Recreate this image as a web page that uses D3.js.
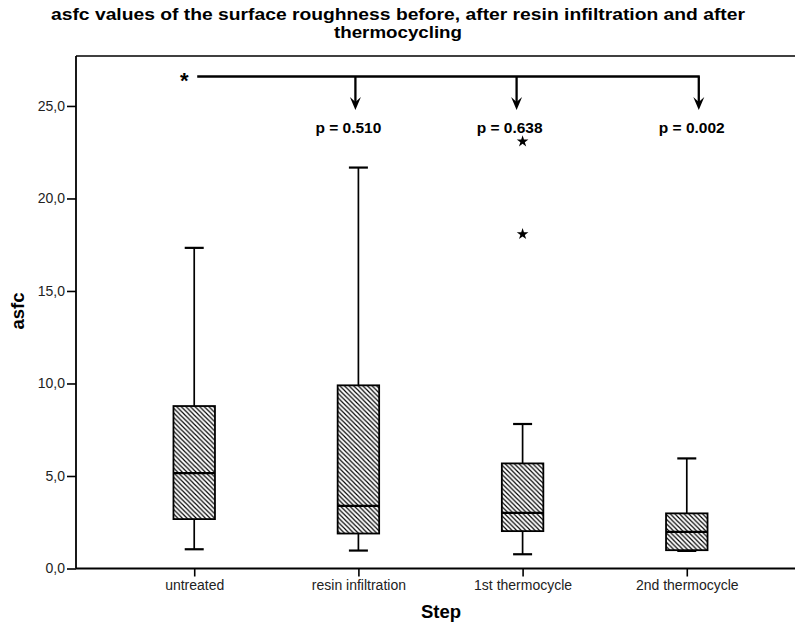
<!DOCTYPE html>
<html>
<head>
<meta charset="utf-8">
<script src="https://cdn.jsdelivr.net/npm/d3@7"></script>
<style>
  body { margin: 0; background: #fff; }
  text { font-family: Arial, "Liberation Sans", sans-serif; }
</style>
</head>
<body>
<div class="canvas"></div>
<script>
// data
const categories = ['untreated', 'resin infiltration', '1st thermocycle', '2nd thermocycle'];
const mins    = [1.04, 0.97, 0.77, 0.95];
const q1s     = [2.67, 1.89, 2.02, 0.99];
const medians = [5.16, 3.39, 3.01, 1.98];
const q3s     = [8.78, 9.90, 5.68, 2.98];
const maxs    = [17.33, 21.67, 7.81, 5.95];
const outliers = [[], [], [18.07, 23.08], []];
const yTicks = [0, 5, 10, 15, 20, 25];
const pLabels = ['p = 0.510', 'p = 0.638', 'p = 0.002'];

const width = 795, height = 623;
const svg = d3.select('.canvas')
  .append('svg')
  .attr('width', width)
  .attr('height', height);

const plotLeft = 76, plotTop = 56, plotBottom = 568.5;

// scales
const x = d3.scalePoint()
  .domain(categories)
  .range([plotLeft, 805])
  .padding(0.72);

const y = d3.scaleLinear()
  .domain([0, 27.7])
  .range([plotBottom, plotTop]);

const data = categories.map((c, i) => ({
  cat: c, min: mins[i], q1: q1s[i], med: medians[i], q3: q3s[i], max: maxs[i], out: outliers[i]
}));

// hatch pattern (\\\ direction)
const hs = 4.6;
svg.append('defs').append('pattern')
  .attr('id', 'hatch')
  .attr('patternUnits', 'userSpaceOnUse')
  .attr('width', hs)
  .attr('height', hs)
  .append('path')
  .attr('d', `M-1,-1L${hs + 1},${hs + 1}M${-1 - hs},-1L1,${hs + 1}M${hs - 1},-1L${2 * hs + 1},${hs + 1}`)
  .attr('stroke', '#000')
  .attr('stroke-width', 1.15);

// title, two lines
const titleLines = ['asfc values of the surface roughness before, after resin infiltration and after', 'thermocycling'];
const titleWidths = [694, 128];
svg.selectAll('text.title').data(titleLines).enter()
  .append('text').attr('class', 'title')
  .attr('x', 398)
  .attr('y', (d, i) => 19.5 + i * 18)
  .attr('text-anchor', 'middle')
  .attr('font-weight', 'bold')
  .attr('font-size', 16)
  .attr('textLength', (d, i) => titleWidths[i])
  .attr('lengthAdjust', 'spacingAndGlyphs')
  .text(d => d);

// frame top line
svg.append('line')
  .attr('x1', plotLeft).attr('x2', width)
  .attr('y1', plotTop).attr('y2', plotTop)
  .attr('stroke', '#000').attr('stroke-width', 1.6);

// axes
const yAxisGroup = svg.append('g')
  .attr('transform', `translate(${plotLeft}, 0)`);
const yAxis = d3.axisLeft(y)
  .tickValues(yTicks)
  .tickSize(9)
  .tickPadding(2)
  .tickFormat(d => d3.format('.1f')(d).replace('.', ','));
yAxisGroup.call(yAxis);
yAxisGroup.select('.domain').attr('d', `M0,${plotTop}V${plotBottom}`);

const xAxisGroup = svg.append('g')
  .attr('transform', `translate(0, ${plotBottom})`);
const xAxis = d3.axisBottom(x)
  .tickSize(8)
  .tickPadding(4);
xAxisGroup.call(xAxis);
xAxisGroup.select('.domain').attr('d', `M${plotLeft},0H${width}`);

[yAxisGroup, xAxisGroup].forEach(g => {
  g.select('.domain').attr('stroke', '#000').attr('stroke-width', 1.8);
  g.selectAll('.tick line').attr('stroke', '#000').attr('stroke-width', 1.6);
  g.selectAll('.tick text')
    .attr('fill', '#222')
    .attr('font-size', 14)
    .attr('font-family', 'Arial, "Liberation Sans", sans-serif');
});

// axis titles
svg.append('text')
  .attr('transform', `translate(24, 311) rotate(-90)`)
  .attr('text-anchor', 'middle')
  .attr('font-weight', 'bold')
  .attr('font-size', 18.5)
  .text('asfc');

svg.append('text')
  .attr('x', 441).attr('y', 618)
  .attr('text-anchor', 'middle')
  .attr('font-weight', 'bold')
  .attr('font-size', 18.5)
  .text('Step');

// boxes
const boxW = 41.5, capW = 19;
const boxes = svg.selectAll('g.box').data(data).enter()
  .append('g').attr('class', 'box');

boxes.append('line')
  .attr('x1', d => x(d.cat)).attr('x2', d => x(d.cat))
  .attr('y1', d => y(d.max)).attr('y2', d => y(d.min))
  .attr('stroke', '#000').attr('stroke-width', 1.7);

boxes.append('line')
  .attr('x1', d => x(d.cat) - capW / 2).attr('x2', d => x(d.cat) + capW / 2)
  .attr('y1', d => y(d.max)).attr('y2', d => y(d.max))
  .attr('stroke', '#000').attr('stroke-width', 2.2);

boxes.append('line')
  .attr('x1', d => x(d.cat) - capW / 2).attr('x2', d => x(d.cat) + capW / 2)
  .attr('y1', d => y(d.min)).attr('y2', d => y(d.min))
  .attr('stroke', '#000').attr('stroke-width', 2.2);

boxes.append('rect')
  .attr('x', d => x(d.cat) - boxW / 2)
  .attr('width', boxW)
  .attr('y', d => y(d.q3))
  .attr('height', d => y(d.q1) - y(d.q3))
  .attr('fill', '#fff');

boxes.append('rect')
  .attr('x', d => x(d.cat) - boxW / 2)
  .attr('width', boxW)
  .attr('y', d => y(d.q3))
  .attr('height', d => y(d.q1) - y(d.q3))
  .attr('fill', 'url(#hatch)')
  .attr('stroke', '#000').attr('stroke-width', 1.8);

boxes.append('line')
  .attr('x1', d => x(d.cat) - boxW / 2).attr('x2', d => x(d.cat) + boxW / 2)
  .attr('y1', d => y(d.med)).attr('y2', d => y(d.med))
  .attr('stroke', '#000').attr('stroke-width', 2.2);

// outliers as stars
const star = d3.symbol().type(d3.symbolStar).size(42);
boxes.each(function (d) {
  d3.select(this).selectAll('path.out').data(d.out).enter()
    .append('path').attr('class', 'out')
    .attr('d', star)
    .attr('transform', v => `translate(${x(d.cat)}, ${y(v)})`)
    .attr('fill', '#000');
});

// significance bracket
const bracketY = 76.5, arrowTip = 110;
const arrowOffsets = [-3, -6, 12];
const targets = categories.slice(1).map((c, i) => x(c) + arrowOffsets[i]);
const starX = x(categories[0]) - 10;

svg.append('text')
  .attr('x', starX).attr('y', 88)
  .attr('text-anchor', 'middle')
  .attr('font-weight', 'bold')
  .attr('font-size', 22)
  .text('*');

svg.append('line')
  .attr('x1', starX + 13).attr('x2', targets[targets.length - 1] + 1)
  .attr('y1', bracketY).attr('y2', bracketY)
  .attr('stroke', '#000').attr('stroke-width', 2.3);

const arrows = svg.selectAll('g.arrow').data(targets).enter()
  .append('g').attr('class', 'arrow');

arrows.append('line')
  .attr('x1', d => d).attr('x2', d => d)
  .attr('y1', bracketY).attr('y2', arrowTip - 6)
  .attr('stroke', '#000').attr('stroke-width', 2.3);

arrows.append('path')
  .attr('d', d => `M${d - 5.5},${arrowTip - 13} L${d},${arrowTip - 8} L${d + 5.5},${arrowTip - 13} L${d},${arrowTip} Z`)
  .attr('fill', '#000');

svg.selectAll('text.p').data(pLabels).enter()
  .append('text').attr('class', 'p')
  .attr('x', (d, i) => targets[i] - 7)
  .attr('y', 133)
  .attr('text-anchor', 'middle')
  .attr('font-weight', 'bold')
  .attr('font-size', 15.5)
  .text(d => d);
</script>
</body>
</html>
